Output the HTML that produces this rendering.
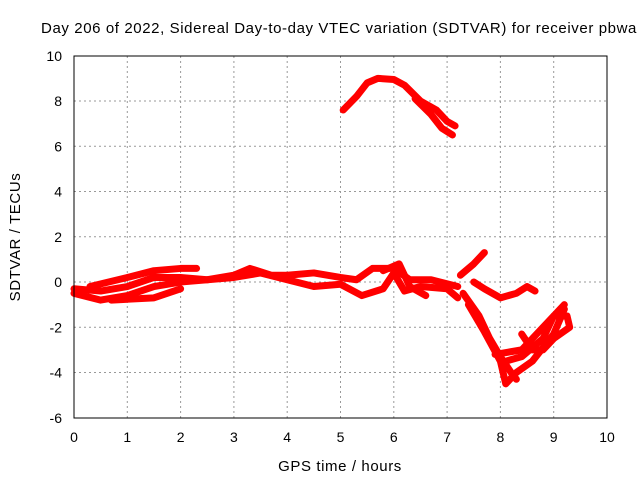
<!DOCTYPE html>
<html><head><meta charset="utf-8"><style>
body{margin:0;background:#fff}
svg{display:block;font-family:"Liberation Sans",sans-serif}
</style></head><body>
<svg id="c" width="640" height="480">
<text x="339" y="33" font-size="15" letter-spacing="0.6" text-anchor="middle">Day 206 of 2022, Sidereal Day-to-day VTEC variation (SDTVAR) for receiver pbwa</text>
<text x="340" y="471" font-size="15" letter-spacing="0.6" text-anchor="middle">GPS time / hours</text>
<text transform="translate(20,237) rotate(-90)" font-size="15" letter-spacing="0.6" text-anchor="middle">SDTVAR / TECUs</text>
<g id="grid"></g><g id="series"></g>
<rect x="74" y="56" width="533" height="362" fill="none" stroke="#000"/>
</svg>
<script>
const xTicks=[0,1,2,3,4,5,6,7,8,9,10];
const yTicks=[-6,-4,-2,0,2,4,6,8,10];
const seriesUpperA=[[5.05,7.6],[5.3,8.2],[5.5,8.8],[5.7,9.0],[6.0,8.95],[6.2,8.7],[6.5,8.0],[6.8,7.6],[7.0,7.1],[7.15,6.9]];
const seriesUpperB=[[6.4,8.1],[6.7,7.4],[6.9,6.8],[7.1,6.5]];
const seriesLow1=[[0,-0.3],[0.5,-0.4],[1,-0.2],[1.5,0.2],[2,0.2],[2.5,0.1],[3,0.3],[3.3,0.6],[3.7,0.3],[4,0.3],[4.5,0.4],[5,0.2],[5.3,0.1],[5.6,0.6],[6,0.6],[6.3,0.1],[6.7,0.1],[7.2,-0.2]];
const seriesLow2=[[0,-0.5],[0.5,-0.8],[1,-0.6],[1.5,-0.2],[2,0],[2.5,0.1],[3,0.2],[3.5,0.4],[4,0.1],[4.5,-0.2],[5,-0.1],[5.4,-0.6],[5.8,-0.3],[6,0.4],[6.2,-0.4],[6.5,-0.2],[7,-0.3],[7.2,-0.7]];
const seriesLow3=[[0.3,-0.2],[1,0.2],[1.5,0.5],[2,0.6],[2.3,0.6]];
const seriesLow4=[[0.7,-0.8],[1.5,-0.7],[2,-0.3]];
const seriesLow5=[[5.8,0.5],[6.1,0.8],[6.3,-0.2],[6.6,-0.6]];
const seriesR1=[[7.25,0.3],[7.5,0.8],[7.7,1.3]];
const seriesR2=[[7.5,0],[7.7,-0.3],[8,-0.7],[8.3,-0.5],[8.5,-0.2],[8.65,-0.4]];
const seriesR3=[[7.3,-0.5],[7.6,-1.5],[7.8,-2.5],[8,-3.3],[8.2,-4.0],[8.3,-4.3]];
const seriesR4=[[7.4,-1],[7.7,-2.2],[8.0,-3.5],[8.1,-4.5],[8.3,-4.0],[8.6,-3.5],[9,-2.3],[9.2,-1.2]];
const seriesR5=[[8.4,-2.3],[8.6,-3.0],[8.8,-3.0],[9.0,-2.5],[9.3,-2.0],[9.25,-1.5],[9.0,-1.5],[8.8,-2.5],[8.4,-3.3],[8.1,-3.5]];
const seriesR6=[[7.9,-3.2],[8.4,-3.0],[8.8,-2.0],[9.2,-1.0]];
const allSeries=[seriesUpperA,seriesUpperB,seriesLow1,seriesLow2,seriesLow3,seriesLow4,seriesLow5,seriesR1,seriesR2,seriesR3,seriesR4,seriesR5,seriesR6];
const X=h=>74+h*53.3, Y=v=>282-v*22.625;
const NS="http://www.w3.org/2000/svg";
const grid=document.getElementById('grid'), ser=document.getElementById('series');
function mk(tag,attrs,parent){const e=document.createElementNS(NS,tag);for(const k in attrs)e.setAttribute(k,attrs[k]);parent.appendChild(e);return e;}
xTicks.forEach(t=>{
 if(t>0&&t<10){const l=mk('line',{x1:X(t),x2:X(t),y1:56,y2:418,stroke:'#999','stroke-dasharray':'2,3'},grid);
 
 }
 const tx=mk('text',{x:X(t),y:442,'font-size':14,'text-anchor':'middle'},grid);tx.textContent=t;
 
 
});
yTicks.forEach(t=>{
 if(t>-6&&t<10){const l=mk('line',{x1:74,x2:607,y1:Y(t),y2:Y(t),stroke:'#999','stroke-dasharray':'2,3'},grid);
 
 }
 const tx=mk('text',{x:62,y:Y(t)+5,'font-size':14,'text-anchor':'end'},grid);tx.textContent=t;
 
 
});
allSeries.forEach(s=>{
 const p=mk('polyline',{points:s.map(d=>X(d[0])+','+Y(d[1])).join(' '),fill:'none',stroke:'#f00','stroke-width':7,'stroke-linejoin':'round','stroke-linecap':'round'},ser);
 
 
});
</script>
</body></html>
